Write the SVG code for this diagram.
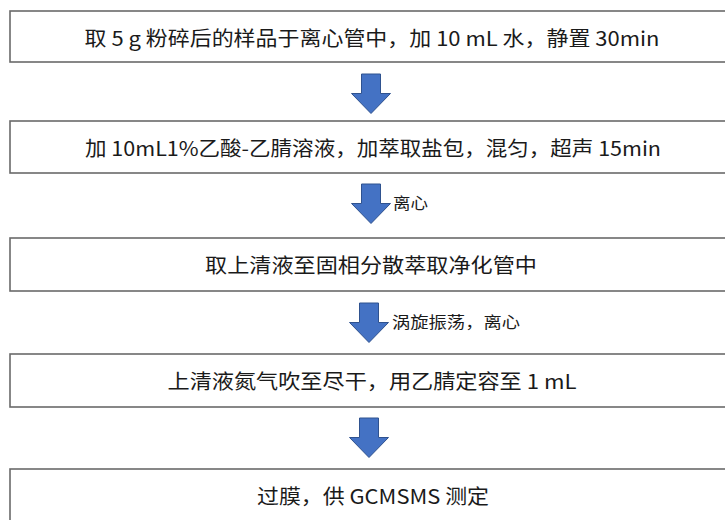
<svg xmlns="http://www.w3.org/2000/svg" xmlns:xlink="http://www.w3.org/1999/xlink" width="725" height="520" viewBox="0 0 725 520">
<style>
.box{fill:#ffffff;stroke:#6a6a6a;stroke-width:1.6}
.t{font-family:"Noto Sans CJK SC","Noto Sans",sans-serif;font-size:20px;fill:#1a1a1a;text-anchor:middle}
.l{font-family:"Noto Sans CJK SC","Noto Sans",sans-serif;font-size:16px;fill:#1a1a1a}
.arr{fill:#4472C4;stroke:#2F528F;stroke-width:1}
</style>
<defs>
<path id="ar" d="M-9.5,0 H9.5 V19.5 H19.5 L0,39.5 L-19.5,19.5 H-9.5 Z"/>
</defs>
<rect width="725" height="520" fill="#ffffff"/>
<g id="n1"><rect class="box" x="10" y="11" width="730" height="51"/><text class="t" x="372" y="46" textLength="575" lengthAdjust="spacingAndGlyphs">取 5 g 粉碎后的样品于离心管中，加 10 mL 水，静置 30min</text></g>
<g id="n2"><rect class="box" x="10" y="121" width="730" height="52"/><text class="t" x="373" y="156" textLength="576" lengthAdjust="spacingAndGlyphs">加 10mL1%乙酸-乙腈溶液，加萃取盐包，混匀，超声 15min</text></g>
<g id="n3"><rect class="box" x="10" y="238" width="730" height="53"/><text class="t" x="371" y="273" textLength="332" lengthAdjust="spacingAndGlyphs">取上清液至固相分散萃取净化管中</text></g>
<g id="n4"><rect class="box" x="10" y="354" width="730" height="53"/><text class="t" x="372" y="389" textLength="409" lengthAdjust="spacingAndGlyphs">上清液氮气吹至尽干，用乙腈定容至 1 mL</text></g>
<g id="n5"><rect class="box" x="10" y="469" width="730" height="60"/><text class="t" x="373" y="504" textLength="232" lengthAdjust="spacingAndGlyphs">过膜，供 GCMSMS 测定</text></g>
<g id="connectors">
<use xlink:href="#ar" class="arr" x="371" y="74"/>
<use xlink:href="#ar" class="arr" x="371" y="184"/>
<use xlink:href="#ar" class="arr" x="369" y="303"/>
<use xlink:href="#ar" class="arr" x="369" y="418"/>
<text class="l" x="393" y="209" textLength="35" lengthAdjust="spacingAndGlyphs">离心</text>
<text class="l" x="392" y="328" textLength="128" lengthAdjust="spacingAndGlyphs">涡旋振荡，离心</text>
</g>
</svg>
